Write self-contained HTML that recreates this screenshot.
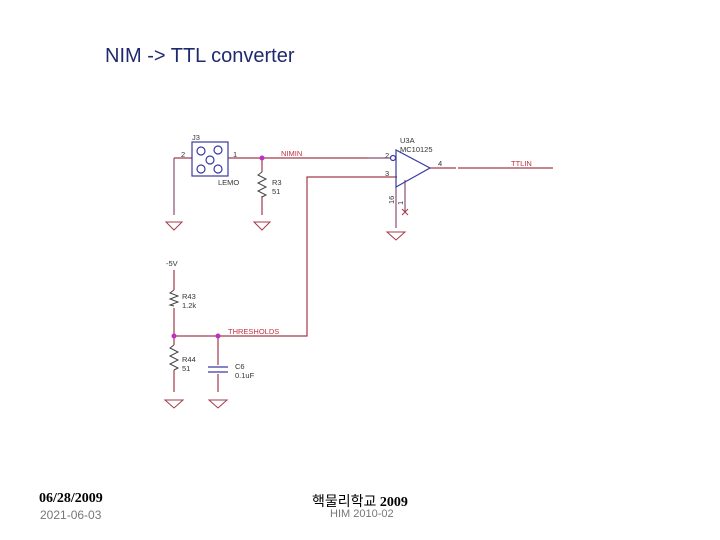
<!DOCTYPE html>
<html><head><meta charset="utf-8"><style>
body{margin:0;width:720px;height:540px;background:#fff;overflow:hidden;position:relative;font-family:"Liberation Sans",sans-serif}
.t{position:absolute;white-space:nowrap}
</style></head><body>
<div class="t" style="left:105px;top:45px;font-size:20px;color:#1f2a6e;font-family:'Liberation Sans',sans-serif">NIM -&gt; TTL converter</div>
<svg width="720" height="540" style="position:absolute;left:0;top:0" font-family="Liberation Sans, sans-serif">
<g stroke="#a33a4a" stroke-width="1.2" fill="none">
<path d="M174 158H192M228 158H368M397 177H307V336H174M174 270V290M174 308V345M174 370V392M218 336V365M218 374V392M262 158V172M262 196V215M456 168H430M458 168H553"/>
</g>
<g stroke="#8a5070" stroke-width="1.2" fill="none">
<path d="M174 158V215M368 158H390M396 187V228M405 180V212"/>
</g>
<g stroke="#444" stroke-width="1" fill="none">
<path d="M262 172l-4 3l8 4l-8 4l8 4l-8 4l8 4l-4 2"/>
<path d="M174 290l-4 3l8 3l-8 3l8 3l-8 3l4 1"/>
<path d="M174 345l-4 3l8 4l-8 4l8 4l-8 4l8 4l-4 2"/>
</g>
<g stroke="#a33a4a" stroke-width="1" fill="none">
<path d="M166 222h16l-8 8z M254 222h16l-8 8z M165 400h18l-9 8z M209 400h18l-9 8z M387 232h18l-9 8z"/>
</g>
<path d="M208 367h20M208 372h20" stroke="#3a3aa0" stroke-width="1.3"/>
<path d="M402 209l6 6M408 209l-6 6" stroke="#a33a4a"/>
<g stroke="#3a3aa0" stroke-width="1.2" fill="none">
<rect x="192" y="142" width="36" height="34"/>
<circle cx="201" cy="151" r="4"/><circle cx="218" cy="150" r="4"/><circle cx="210" cy="160" r="4"/><circle cx="201" cy="169" r="4"/><circle cx="218" cy="169" r="4"/>
<path d="M396 150V187L430 168Z"/><circle cx="393" cy="158" r="2.5"/>
</g>
<g fill="#c030c0"><circle cx="262" cy="158" r="2.5"/><circle cx="174" cy="336" r="2.5"/><circle cx="218" cy="336" r="2.5"/></g>
<g font-size="7.5" fill="#333">
<text x="192" y="140">J3</text><text x="181" y="157">2</text><text x="233" y="157">1</text><text x="218" y="185">LEMO</text>
<text x="272" y="185">R3</text><text x="272" y="194">51</text>
<text x="400" y="143">U3A</text><text x="400" y="152">MC10125</text>
<text x="385" y="158">2</text><text x="385" y="176">3</text><text x="438" y="166">4</text>
<text x="166" y="266">-5V</text><text x="182" y="299">R43</text><text x="182" y="308">1.2k</text>
<text x="182" y="362">R44</text><text x="182" y="371">51</text>
<text x="235" y="369">C6</text><text x="235" y="378">0.1uF</text>
<text transform="translate(394 204) rotate(-90)">16</text><text transform="translate(403 205) rotate(-90)">1</text>
</g>
<g font-size="7.5" fill="#c03040"><text x="281" y="156">NIMIN</text><text x="511" y="166">TTLIN</text><text x="228" y="334">THRESHOLDS</text></g>
</svg>
<div class="t" style="left:39px;top:491px;font-size:14px;font-weight:bold;font-family:'Liberation Serif',serif">06/28/2009</div>
<div class="t" style="left:40px;top:508px;font-size:12px;color:#777">2021-06-03</div>
<div class="t" style="left:312px;top:491px;font-size:14px;font-family:'Liberation Serif','Noto Sans CJK KR',sans-serif">핵물리학교 <b>2009</b></div>
<div class="t" style="left:330px;top:508px;font-size:11px;color:#777">HIM 2010-02</div>
</body></html>
